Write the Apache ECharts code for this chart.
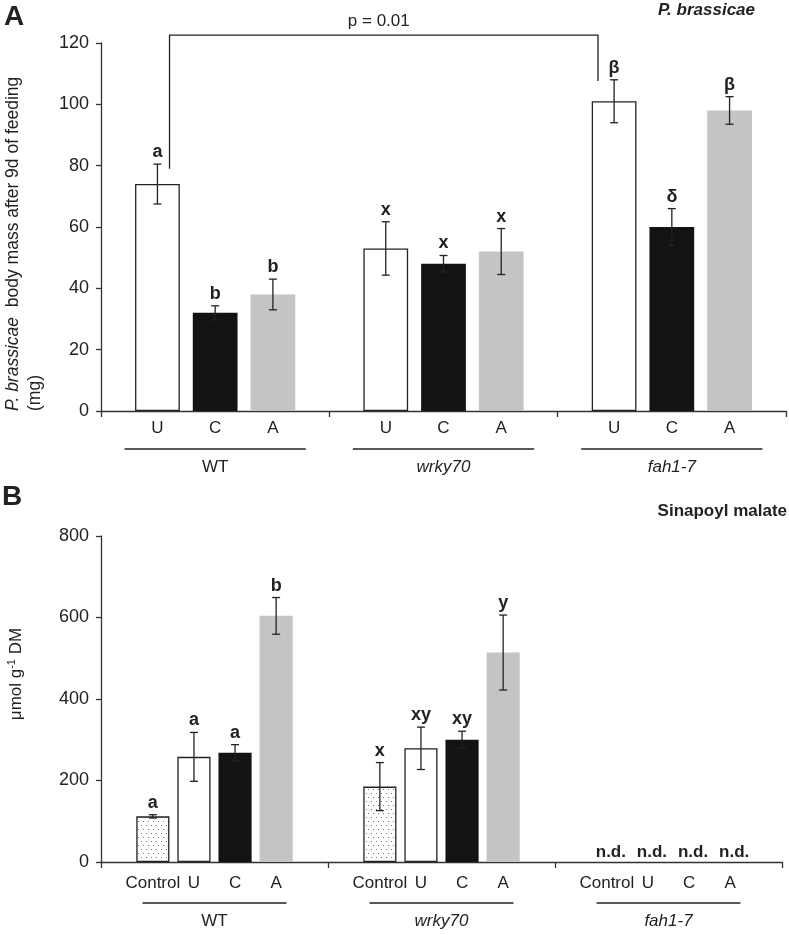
<!DOCTYPE html>
<html>
<head>
<meta charset="utf-8">
<script src="https://cdn.jsdelivr.net/npm/echarts@6/dist/echarts.min.js"></script>
<style>html,body{margin:0;padding:0;background:#fff}#chart{width:789px;height:935px}</style>
</head>
<body>
<div id="chart"></div>
<script>
// genotypes on the x axis (both panels)
var groups = ['WT', 'wrky70', 'fah1-7'];

// panel A - P. brassicae body mass after 9d (mg)
var treatA = ['U', 'C', 'A'];
var massU = [74, 53, 101];
var massUErr = [6.5, 8.7, 7];
var massULetters = ['a', 'x', 'β'];
var massC = [32, 48, 60];
var massCErr = [2.3, 2.7, 6];
var massCLetters = ['b', 'x', 'δ'];
var massA = [38, 52, 98];
var massAErr = [5, 7.5, 4.5];
var massALetters = ['b', 'x', 'β'];
var ticksA = [0, 120, 20];

// p value bracket between WT U and fah1-7 U
var bracketGroups = [0, 2];
var bracketLevels = [79, 122.6, 107.6];
var bracketText = 'p = 0.01';

// panel B - sinapoyl malate (umol g-1 DM), null = n.d.
var treatB = ['Control', 'U', 'C', 'A'];
var smControl = [112, 185, null];
var smControlErr = [4, 59, null];
var smControlLetters = ['a', 'x', 'n.d.'];
var smU = [258, 279, null];
var smUErr = [60, 52, null];
var smULetters = ['a', 'xy', 'n.d.'];
var smC = [268, 300, null];
var smCErr = [20, 21, null];
var smCLetters = ['a', 'xy', 'n.d.'];
var smA = [604, 514, null];
var smAErr = [45, 92, null];
var smALetters = ['b', 'y', 'n.d.'];
var ticksB = [0, 800, 200];

var FONT = 'Liberation Sans';
var INK = '#222';

// dotted fill for the Control bars
var dots = document.createElement('canvas');
dots.width = 5; dots.height = 8;
var dctx = dots.getContext('2d');
dctx.fillStyle = '#fff'; dctx.fillRect(0, 0, 5, 8);
dctx.fillStyle = '#777';
dctx.fillRect(1, 1, 1, 1);
dctx.fillRect(3, 5, 1, 1);

var styles = {
    white: {color: '#fff', borderColor: INK, borderWidth: 1.3},
    black: {color: '#131313'},
    gray: {color: '#c4c4c4'},
    dotted: {color: {image: dots, repeat: 'repeat'}, borderColor: INK, borderWidth: 1.3}
};

var chart = echarts.init(document.getElementById('chart'));

var series = [];

function addTreatment(panel, i, n, bw, gap, name, values, errs, letters, style, labelTop) {
    series.push({
        type: 'bar',
        name: name,
        xAxisIndex: panel, yAxisIndex: panel,
        barWidth: (bw * 100) + '%',
        barGap: (gap * 100) + '%',
        itemStyle: style,
        silent: true,
        data: values.map(function (v) { return v == null ? '-' : v; })
    });
    // error bars, letters and the treatment label under the axis
    series.push({
        type: 'custom',
        xAxisIndex: panel, yAxisIndex: panel,
        z: 5, silent: true,
        data: values.map(function (v, k) { return [k, v == null ? 0 : v, errs[k] == null ? 0 : errs[k]]; }),
        renderItem: function (params, api) {
            var k = api.value(0), v = api.value(1), e = api.value(2);
            var base = api.coord([k, 0]);
            var catW = api.size([1, 0])[0];
            var w = catW * bw, step = w * (1 + gap);
            var x = base[0] + (i - (n - 1) / 2) * step;
            var kids = [{
                type: 'text',
                style: {text: name, x: x, y: base[1] + labelTop, align: 'center', verticalAlign: 'top',
                    font: '17px ' + FONT, fill: INK}
            }];
            var letter = letters[params.dataIndex];
            if (values[k] == null) {
                kids.push({type: 'text', style: {text: letter, x: x + 4, y: base[1] - 1, align: 'center',
                    verticalAlign: 'bottom', font: 'bold 17px ' + FONT, fill: INK}});
            } else {
                var yT = api.coord([k, v + e])[1], yB = api.coord([k, v - e])[1];
                var ls = {stroke: INK, lineWidth: 1.3};
                kids.push({type: 'line', shape: {x1: x, y1: yT, x2: x, y2: yB}, style: ls});
                kids.push({type: 'line', shape: {x1: x - 4, y1: yT, x2: x + 4, y2: yT}, style: ls});
                kids.push({type: 'line', shape: {x1: x - 4, y1: yB, x2: x + 4, y2: yB}, style: ls});
                kids.push({type: 'text', style: {text: letter, x: x, y: yT - 3, align: 'center',
                    verticalAlign: 'bottom', font: 'bold 18px ' + FONT, fill: INK}});
            }
            return {type: 'group', children: kids};
        }
    });
}

// group underline below the treatment labels
function addUnderline(panel, half, off) {
    series.push({
        type: 'custom',
        xAxisIndex: panel, yAxisIndex: panel,
        silent: true,
        data: groups.map(function (g, k) { return [k, 0]; }),
        renderItem: function (params, api) {
            var p = api.coord([api.value(0), 0]);
            var catW = api.size([1, 0])[0];
            return {type: 'line', shape: {x1: p[0] - catW * half, y1: p[1] + off, x2: p[0] + catW * half, y2: p[1] + off},
                style: {stroke: INK, lineWidth: 1.3}};
        }
    });
}

var bwA = 0.196, gapA = 0.29;
addTreatment(0, 0, 3, bwA, gapA, treatA[0], massU, massUErr, massULetters, styles.white, 9);
addTreatment(0, 1, 3, bwA, gapA, treatA[1], massC, massCErr, massCLetters, styles.black, 9);
addTreatment(0, 2, 3, bwA, gapA, treatA[2], massA, massAErr, massALetters, styles.gray, 9);
addUnderline(0, 0.397, 38);

var bwB = 0.146, gapB = 0.24;
addTreatment(1, 0, 4, bwB, gapB, treatB[0], smControl, smControlErr, smControlLetters, styles.dotted, 13);
addTreatment(1, 1, 4, bwB, gapB, treatB[1], smU, smUErr, smULetters, styles.white, 13);
addTreatment(1, 2, 4, bwB, gapB, treatB[2], smC, smCErr, smCLetters, styles.black, 13);
addTreatment(1, 3, 4, bwB, gapB, treatB[3], smA, smAErr, smALetters, styles.gray, 13);
addUnderline(1, 0.317, 41);

// significance bracket in panel A
series.push({
    type: 'custom',
    xAxisIndex: 0, yAxisIndex: 0,
    silent: true, z: 6,
    data: [[bracketGroups[0], bracketLevels[0]]],
    renderItem: function (params, api) {
        var catW = api.size([1, 0])[0];
        var w = catW * bwA, step = w * (1 + gapA);
        var x1 = api.coord([bracketGroups[0], 0])[0] - step + w * 0.27;
        var x2 = api.coord([bracketGroups[1], 0])[0] - step - w * 0.36;
        var yL = api.coord([0, bracketLevels[0]])[1];
        var yTop = api.coord([0, bracketLevels[1]])[1];
        var yR = api.coord([0, bracketLevels[2]])[1];
        return {type: 'group', children: [
            {type: 'polyline', shape: {points: [[x1, yL], [x1, yTop], [x2, yTop], [x2, yR]]},
                style: {stroke: INK, lineWidth: 1.3, fill: null}},
            {type: 'text', style: {text: bracketText, x: (x1 + x2) / 2 - 5, y: yTop - 5, align: 'center',
                verticalAlign: 'bottom', font: '17px ' + FONT, fill: INK}}
        ]};
    }
});

function catAxis(grid, margin) {
    return {
        type: 'category', gridIndex: grid, data: groups,
        axisLine: {lineStyle: {color: '#333', width: 1.3}},
        axisTick: {show: true, length: 6, lineStyle: {color: '#333', width: 1.3}},
        axisLabel: {
            interval: 0, margin: margin, fontSize: 17, color: INK, fontFamily: FONT,
            formatter: function (v) { return v === 'WT' ? v : '{i|' + v + '}'; },
            rich: {i: {fontStyle: 'italic', fontSize: 17, color: INK, fontFamily: FONT}}
        },
        splitLine: {show: false}
    };
}

function valAxis(grid, t) {
    return {
        type: 'value', gridIndex: grid, min: t[0], max: t[1], interval: t[2],
        axisLine: {show: true, lineStyle: {color: '#333', width: 1.3}},
        axisTick: {show: true, length: 5, lineStyle: {color: '#333', width: 1.3}},
        axisLabel: {margin: 12, fontSize: 18, color: INK, fontFamily: FONT},
        splitLine: {show: false}
    };
}

var option = {
    animation: false,
    backgroundColor: '#fff',
    textStyle: {fontFamily: FONT},
    grid: [
        {left: 101, top: 43, width: 685, height: 368, outerBoundsMode: 'none'},
        {left: 101, top: 536, width: 681, height: 326, outerBoundsMode: 'none'}
    ],
    xAxis: [catAxis(0, 48), catAxis(1, 51)],
    yAxis: [valAxis(0, ticksA), valAxis(1, ticksB)],
    graphic: [
        {type: 'text', left: 4, top: 3, style: {text: 'A', font: 'bold 28px ' + FONT, fill: INK}},
        {type: 'text', left: 2, top: 483, style: {text: 'B', font: 'bold 28px ' + FONT, fill: INK}},
        {type: 'text', right: 34, top: 2, style: {text: 'P. brassicae', font: 'italic bold 17px ' + FONT, fill: INK}},
        {type: 'text', right: 2, top: 503, style: {text: 'Sinapoyl malate', font: 'bold 17px ' + FONT, fill: INK}},
        {type: 'text', x: 24, y: 411, rotation: Math.PI / 2,
            style: {text: '{i|P. brassicae}  body mass after 9d of feeding\n(mg)', font: '17.5px ' + FONT,
                fill: INK, align: 'left', verticalAlign: 'middle', lineHeight: 22,
                rich: {i: {fontStyle: 'italic', fontSize: 17.5, fontFamily: FONT, lineHeight: 22}}}},
        {type: 'text', x: 16, y: 674, rotation: Math.PI / 2,
            style: {text: 'μmol g{sup|-1} DM', font: '17px ' + FONT, fill: INK, align: 'center', verticalAlign: 'middle',
                rich: {sup: {fontSize: 11, fontFamily: FONT, verticalAlign: 'top', padding: [0, 0, 8, 0]}}}}
    ],
    series: series
};

chart.setOption(option);
</script>
</body>
</html>
